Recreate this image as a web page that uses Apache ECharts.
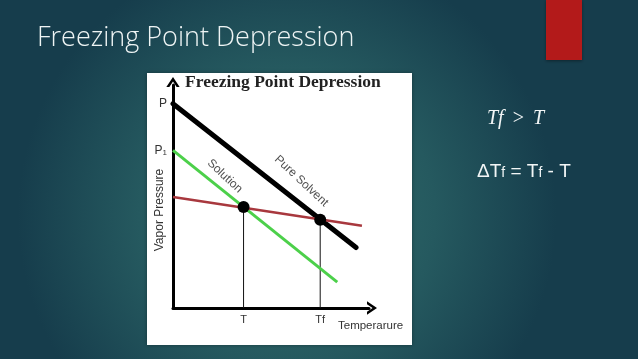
<!DOCTYPE html>
<html><head><meta charset="utf-8">
<script src="https://cdn.jsdelivr.net/npm/echarts@6/dist/echarts.min.js"></script>
<style>html,body{margin:0;padding:0;background:#1c4a56}#c{width:638px;height:359px}</style>
</head><body><div id="c"></div>
<script>
// ---- data ----
const xTickValues = [36, 75.1];
const xTickLabels = ['T', 'Tf'];
const yTickValues = [91.6, 70.7];
const yTickLabels = ['P', 'P1'];
const pureSolvent = [[0, 91.6], [93.4, 27.1]];
const solution = [[0, 70.7], [83.8, 11.6]];
const solidCurve = [[0, 49.8], [96.4, 36.9]];
const intersections = [[36, 45.3], [75.1, 39.6]];
const lineLabels = ['Solution', 'Pure Solvent'];
const lineLabelPos = [[26.4, 59.1], [65.5, 56.9]];

const chart = echarts.init(document.getElementById('c'), null, {renderer: 'canvas'});

const dropSeries = intersections.map(p => ({
  type: 'line', data: [[p[0], p[1]], [p[0], 0]], symbol: 'none', z: 1,
  lineStyle: {color: '#111', width: 1}, silent: true
}));

const chevron = 'path://M0,9 L6,0 L12,9 L9.3,9 L6,4 L2.7,9 Z';

const option = {
  animation: false,
  grid: {left: 173, top: 85, width: 196, height: 223},
  xAxis: {
    type: 'value', min: 0, max: 100,
    axisLine: {show: true, lineStyle: {color: '#000', width: 3}, symbol: ['none', chevron], symbolSize: [14, 10], symbolOffset: [0, 3]},
    axisTick: {show: false}, splitLine: {show: false},
    axisLabel: {customValues: xTickValues, margin: 6, color: '#333', fontSize: 11, fontFamily: 'Liberation Sans',
      formatter: v => { const i = xTickValues.indexOf(v); return i >= 0 ? xTickLabels[i] : ''; }}
  },
  yAxis: {
    type: 'value', min: 0, max: 100,
    axisLine: {show: true, lineStyle: {color: '#000', width: 3}, symbol: ['none', chevron], symbolSize: [14, 10], symbolOffset: [0, 3]},
    axisTick: {show: false}, splitLine: {show: false},
    axisLabel: {customValues: yTickValues, margin: 6, color: '#333', fontSize: 12, fontFamily: 'Liberation Sans',
      formatter: v => { const i = yTickValues.indexOf(v); if (i < 0) return ''; const s = yTickLabels[i];
        return s.length > 1 ? '{m|' + s[0] + '}{s|' + s.slice(1) + '}' : '{m|' + s + '}'; },
      rich: {m: {fontSize: 12, color: '#333', fontFamily: 'Liberation Sans'}, s: {fontSize: 8, color: '#333', fontFamily: 'Liberation Sans', verticalAlign: 'bottom', padding: [3, 0, 0, 0]}}
    }
  },
  graphic: [
    {type: 'rect', z: -100, shape: {x: 0, y: 0, width: 638, height: 359},
      style: {fill: new echarts.graphic.RadialGradient(0.45, 0.6, 0.75, [
        {offset: 0, color: '#34716d'}, {offset: 0.55, color: '#25595f'}, {offset: 1, color: '#163d4c'}])}},
    {type: 'rect', z: -90, shape: {x: 546, y: 0, width: 36, height: 60},
      style: {fill: '#b31a1a', shadowBlur: 3, shadowColor: 'rgba(0,0,0,0.4)', shadowOffsetY: 1}},
    {type: 'text', z: -90, x: 37, y: 38, style: {text: 'Freezing Point Depression', fill: '#eef4f4',
      font: '300 27px "Open Sans"', textVerticalAlign: 'middle'}},
    {type: 'rect', z: -80, shape: {x: 147, y: 73, width: 265, height: 272},
      style: {fill: '#ffffff', shadowBlur: 4, shadowColor: 'rgba(0,0,0,0.35)'}},
    {type: 'text', z: -70, x: 185, y: 82, style: {text: 'Freezing Point Depression', fill: '#222',
      font: 'bold 17.5px "Liberation Serif"', textVerticalAlign: 'middle'}},
    {type: 'text', z: -70, x: 160, y: 210, rotation: Math.PI / 2, style: {text: 'Vapor Pressure', fill: '#333',
      font: '12px "Liberation Sans"', textAlign: 'center', textVerticalAlign: 'middle'}},
    {type: 'text', z: -70, x: 338, y: 326, style: {text: 'Temperarure', fill: '#333',
      font: '11.5px "Liberation Sans"', textVerticalAlign: 'middle'}},
    {type: 'text', z: -70, x: 487, y: 119, style: {
      rich: {a: {fontSize: 20, fontFamily: 'Liberation Serif', fontStyle: 'italic', fill: '#f2f6f6'},
             g: {fontSize: 20, fontFamily: 'Liberation Serif', fill: '#f2f6f6', padding: [0, 9, 0, 9]}},
      text: '{a|Tf}{g|>}{a|T}', textVerticalAlign: 'middle'}},
    {type: 'text', z: -70, x: 477, y: 172, style: {
      rich: {a: {fontSize: 19, fontFamily: 'Liberation Sans', fill: '#f2f6f6'}, b: {fontSize: 14, fontFamily: 'Liberation Sans', fill: '#f2f6f6', padding: [3, 0, 0, 0]}},
      text: '{a|ΔT}{b|f}{a| = T}{b|f}{a| - T}', textVerticalAlign: 'middle'}}
  ],
  series: [
    ...dropSeries,
    {type: 'line', data: pureSolvent, symbol: 'none', z: 3, lineStyle: {color: '#000', width: 5, cap: 'round'}},
    {type: 'line', data: solution, symbol: 'none', z: 3, lineStyle: {color: '#4cd04a', width: 3}},
    {type: 'line', data: solidCurve, symbol: 'none', z: 4, lineStyle: {color: '#a8383e', width: 2.5}},
    {type: 'scatter', data: intersections, symbolSize: 12, z: 5, itemStyle: {color: '#000', opacity: 1}},
    {type: 'scatter', z: 5, symbolSize: 0, silent: true,
      data: lineLabelPos.map((p, i) => ({value: p, name: lineLabels[i]})),
      label: {show: true, position: 'inside', formatter: '{b}', rotate: -43, color: '#222', fontSize: 12, fontFamily: 'Liberation Sans'}}
  ]
};
chart.setOption(option);
</script></body></html>
